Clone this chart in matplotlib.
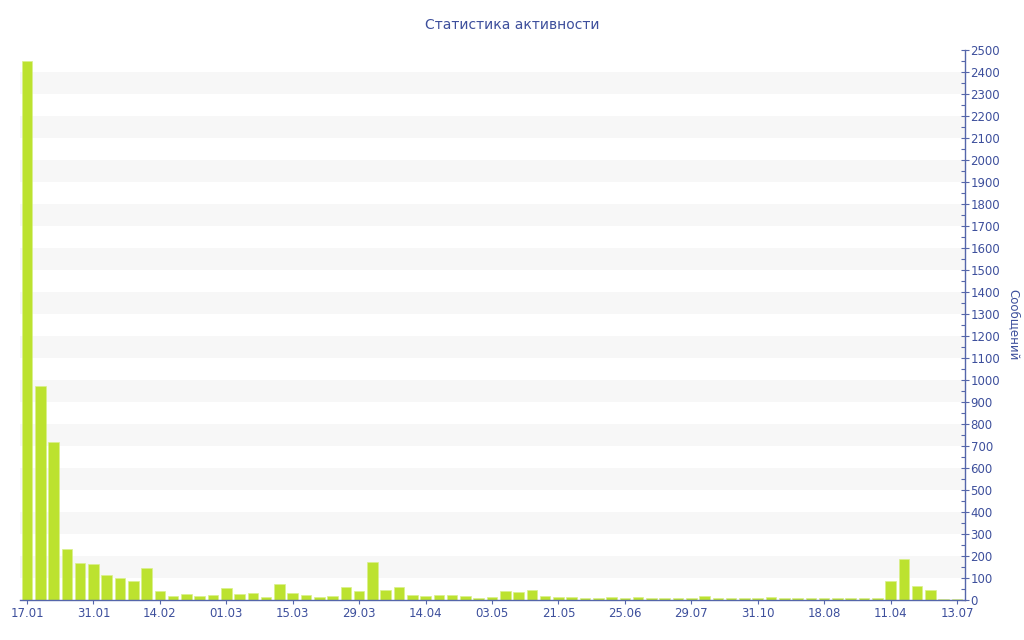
import matplotlib
matplotlib.use("Agg")
import matplotlib.pyplot as plt
from matplotlib.ticker import MultipleLocator

# messages per period
messages = [
    2450, 975, 720, 230, 167, 165, 114, 98, 85, 145,
    39, 20, 27, 17, 21, 53, 27, 32, 14, 73,
    30, 21, 14, 20, 58, 41, 174, 44, 58, 23,
    20, 23, 23, 17, 9, 15, 41, 38, 45, 18,
    12, 14, 9, 9, 12, 9, 12, 9, 9, 9,
    8, 18, 9, 9, 9, 8, 14, 8, 8, 8,
    8, 8, 8, 8, 8, 88, 186, 64, 47, 6,
    6,
]
# every fifth bar gets a date label
date_labels = [
    "17.01", "31.01", "14.02", "01.03", "15.03", "29.03", "14.04", "03.05",
    "21.05", "25.06", "29.07", "31.10", "18.08", "11.04", "13.07",
]
label_step = 5

text_color = "#3d4f9c"
axis_color = "#5566aa"
bar_color = "#bce22f"

fig = plt.figure(figsize=(10.24, 6.4), dpi=100)
ax = fig.add_axes([20 / 1024, 40 / 640, 945 / 1024, 550 / 640])

# light horizontal stripes
for lo in range(100, 2500, 200):
    ax.axhspan(lo, lo + 100, color="#f7f7f7", zorder=0, lw=0)

x = list(range(len(messages)))
ax.bar(x, messages, width=0.8, color=bar_color, edgecolor="#d9f08c",
       linewidth=0.5, zorder=2)

ax.set_xlim(-0.53, 70.6)
ax.set_ylim(0, 2500)

ax.set_xticks(x[::label_step])
ax.set_xticklabels(date_labels)

ax.yaxis.tick_right()
ax.yaxis.set_label_position("right")
ax.yaxis.set_major_locator(MultipleLocator(100))
ax.yaxis.set_minor_locator(MultipleLocator(50))
ax.set_ylabel("Сообщений", rotation=270, labelpad=14, color=text_color, fontsize=8.5)

for side in ["top", "left"]:
    ax.spines[side].set_visible(False)
for side in ["bottom", "right"]:
    ax.spines[side].set_color(axis_color)
    ax.spines[side].set_linewidth(1.0)

ax.tick_params(axis="y", which="major", direction="inout", length=6, width=0.8,
               colors=axis_color, labelcolor=text_color, labelsize=8.5, pad=1)
ax.tick_params(axis="y", which="minor", direction="in", length=3, width=0.8,
               colors=axis_color)
ax.tick_params(axis="x", which="major", direction="out", length=3, width=0.8,
               colors=axis_color, labelcolor=text_color, labelsize=8.5, pad=2)

fig.text(0.5, 1 - 25 / 640, "Статистика активности", ha="center", va="center",
         color=text_color, fontsize=10)

fig.savefig("out.png", dpi=100)
